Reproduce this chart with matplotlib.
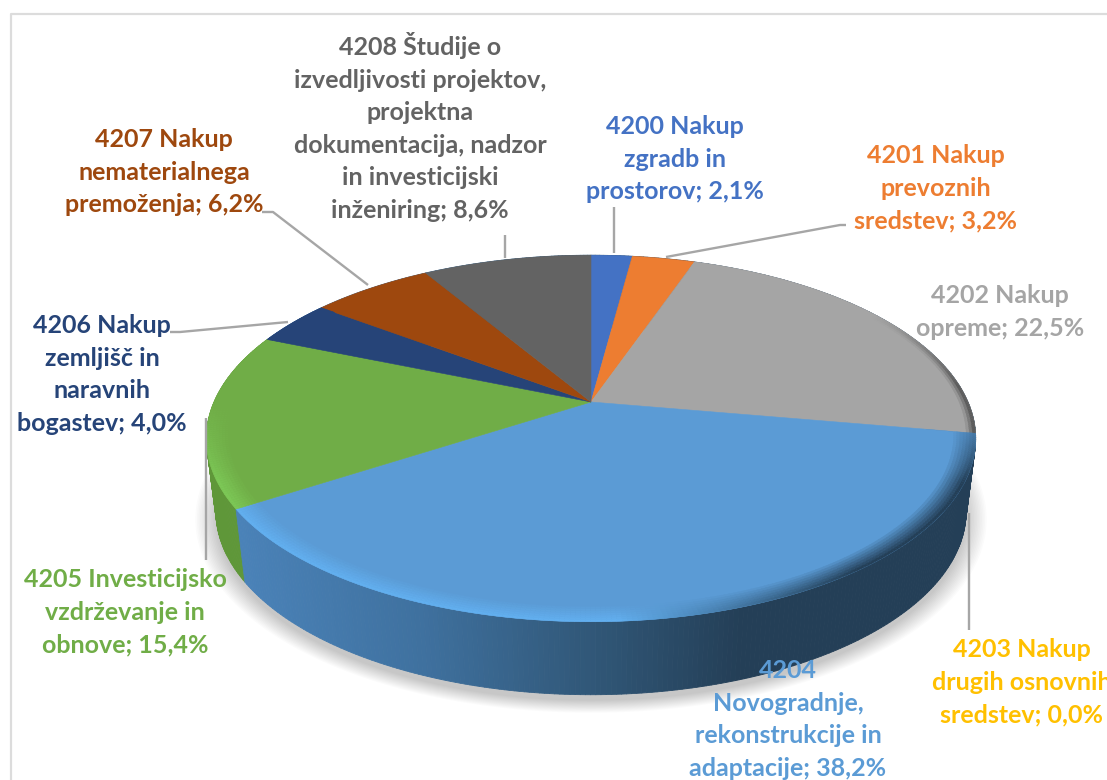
import matplotlib
matplotlib.use("Agg")
import matplotlib.pyplot as plt
import matplotlib.colors as mcolors
from matplotlib.collections import PolyCollection
import numpy as np

plt.rcParams["font.family"] = ["Lato", "DejaVu Sans"]

# ----- Data -----
VALUES = [2.1, 3.2, 22.5, 0.0, 38.2, 15.4, 4.0, 6.2, 8.6]
NAMES = [
    ["4200 Nakup", "zgradb in", "prostorov; 2,1%"],
    ["4201 Nakup", "prevoznih", "sredstev; 3,2%"],
    ["4202 Nakup", "opreme; 22,5%"],
    ["4203 Nakup", "drugih osnovnih", "sredstev; 0,0%"],
    ["4204", "Novogradnje,", "rekonstrukcije in", "adaptacije; 38,2%"],
    ["4205 Investicijsko", "vzdrževanje in", "obnove; 15,4%"],
    ["4206 Nakup", "zemljišč in", "naravnih", "bogastev; 4,0%"],
    ["4207 Nakup", "nematerialnega", "premoženja; 6,2%"],
    ["4208 Študije o", "izvedljivosti projektov,", "projektna", "dokumentacija, nadzor",
     "in investicijski", "inženiring; 8,6%"],
]
COLORS = ["#4472c4", "#ed7d31", "#a5a5a5", "#ffc000", "#5b9bd5",
          "#70ad47", "#264478", "#9e480e", "#636363"]

# label centre x, first baseline y, in picture pixels
LABEL_POS = [(675, 134), (936, 163), (1000, 303), (1022, 657), (788, 678),
             (125, 587), (102, 333), (164, 147), (420, 55)]
LEADERS = [
    [(614, 207), (614, 253)],
    [(666, 257), (840, 225), (846, 225)],
    [],
    [(969, 513), (969, 630)],
    [],
    [(206, 418), (206, 560)],
    [(288, 322), (180, 332), (170, 332)],
    [(368, 285), (273, 212), (262, 212)],
    [(505, 235), (505, 258)],
]

# ----- Pie geometry -----
CX, CY = 591, 402
A, B, K = 377, 176, 0.199
DEPTH = 73
BOTTOM_SCALE = 0.975
LINE_STEP = 32.6


def project(theta, r=1.0):
    """Clockwise angle from the top -> picture pixels, with perspective."""
    u, v = r * np.sin(theta), r * np.cos(theta)
    w = 1 + K * v
    return CX + A * u / w, CY - B * v / w


def side_color(x, name):
    if name == "#70ad47":
        return "#5f9739"
    stops = [(240, "#4a82b8"), (420, "#3f719f"), (600, "#305676"), (740, "#243f57"), (980, "#243f57")]
    xs = [s[0] for s in stops]
    rgb = np.array([mcolors.to_rgb(s[1]) for s in stops])
    return tuple(np.interp(x, xs, rgb[:, i]) for i in range(3))


def mix(c1, c2, t):
    c1, c2 = np.array(mcolors.to_rgb(c1)), np.array(mcolors.to_rgb(c2))
    return tuple(c1 + (c2 - c1) * t)


def rim_color(x, name):
    # the bevel is lit on the left and falls into shadow on the right
    if name == "#70ad47":
        return "#7cc756"
    if name == "#a5a5a5":
        return "#5c5c5c"
    t = np.clip((x - 620) / (860 - 620), 0, 1)
    return mix("#62afef", "#243f57", t)


fig = plt.figure(figsize=(11.07, 7.80), dpi=100)
ax = fig.add_axes([0, 0, 1, 1])
ax.set_xlim(0, 1107)
ax.set_ylim(780, 0)
ax.axis("off")

# chart frame
ax.plot([11, 11, 1107], [780, 14, 14], color="#dcdcdc", lw=1.6, zorder=1)

edges = np.cumsum([0] + VALUES) / sum(VALUES) * 2 * np.pi

# soft shadow below the pie
full = np.linspace(0, 2 * np.pi, 241)
for grow in np.linspace(1.055, 1.0, 14):
    x, y = project(full)
    sx = CX + (x - CX) * BOTTOM_SCALE * grow
    sy = CY + (y - CY) * grow + DEPTH + 6
    ax.fill(sx, sy, color="#000000", alpha=0.014, lw=0, zorder=2)

# side wall, back to front
side_polys = []
for value, color, t0, t1 in zip(VALUES, COLORS, edges[:-1], edges[1:]):
    if value == 0:
        continue
    steps = np.linspace(t0, t1, max(int((t1 - t0) * 90), 2))
    for a, b in zip(steps[:-1], steps[1:]):
        xa, ya = project(a)
        xb, yb = project(b)
        xa2 = CX + (xa - CX) * BOTTOM_SCALE
        xb2 = CX + (xb - CX) * BOTTOM_SCALE
        side_polys.append(((np.cos(a) + np.cos(b)),
                           [(xa, ya), (xb, yb), (xb2, yb + DEPTH), (xa2, ya + DEPTH)],
                           side_color((xa + xb) / 2, color)))
side_polys.sort(key=lambda p: -p[0])
ax.add_collection(PolyCollection([p[1] for p in side_polys],
                                 facecolors=[p[2] for p in side_polys],
                                 edgecolors=[p[2] for p in side_polys],
                                 linewidths=0.6, zorder=3))

# top faces
for value, color, t0, t1 in zip(VALUES, COLORS, edges[:-1], edges[1:]):
    if value == 0:
        continue
    theta = np.linspace(t0, t1, max(int((t1 - t0) * 60), 3))
    x, y = project(theta)
    ax.fill(np.r_[CX, x], np.r_[CY, y], color=color, lw=0.4, zorder=4)

# bevel on the front edge of the faces
BANDS = np.linspace(0.945, 1.0, 8)
rim_polys, rim_cols = [], []
for value, color, t0, t1 in zip(VALUES, COLORS, edges[:-1], edges[1:]):
    if value == 0 or np.cos((t0 + t1) / 2) > 0.6:
        continue
    steps = np.linspace(t0, t1, max(int((t1 - t0) * 90), 2))
    is_gray = color == "#a5a5a5"
    for r0, r1 in zip(BANDS[:-1], BANDS[1:]):
        for a, b in zip(steps[:-1], steps[1:]):
            # bevel only shows where the wall is in front
            if is_gray:
                # just a thin dark line along the back right
                fade = np.clip((0.55 - np.cos(a)) / 0.45, 0, 1)
                amount = fade * np.clip((r1 - 0.98) / 0.02, 0, 1)
            else:
                fade = np.clip((-0.02 - np.cos(a)) / 0.4, 0, 1)
                amount = fade * ((r1 - BANDS[0]) / (1 - BANDS[0]))
            xa, ya = project(a, r0)
            xb, yb = project(b, r0)
            xc, yc = project(b, r1)
            xd, yd = project(a, r1)
            c = mix(color, rim_color(project(a)[0], color), amount)
            rim_polys.append([(xa, ya), (xb, yb), (xc, yc), (xd, yd)])
            rim_cols.append(c)
ax.add_collection(PolyCollection(rim_polys, facecolors=rim_cols, edgecolors=rim_cols,
                                 linewidths=0.3, zorder=5))

# leader lines
for points in LEADERS:
    if points:
        ax.plot(*zip(*points), color="#a6a6a6", lw=1.7, zorder=6, solid_capstyle="butt")

# labels
for lines, color, (lx, ly) in zip(NAMES, COLORS, LABEL_POS):
    for i, line in enumerate(lines):
        ax.text(lx, ly + i * LINE_STEP, line, color=color, fontsize=18, fontweight="bold",
                ha="center", va="baseline", zorder=7)

fig.savefig("out.png", dpi=100, facecolor="white")
